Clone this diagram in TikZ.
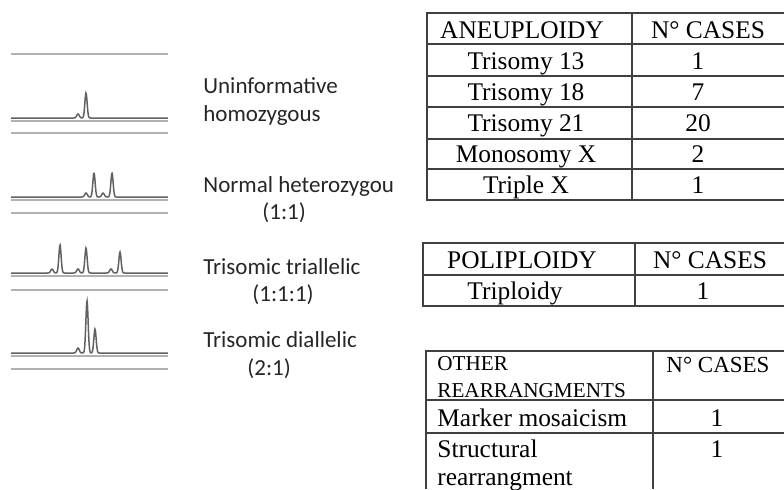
\documentclass[tikz,border=0pt]{standalone}
\usepackage{fontspec}
\setmainfont{Liberation Serif}
\newfontfamily\lblfont{Carlito}
\usetikzlibrary{positioning}

\begin{document}
\begin{tikzpicture}[x=0.5pt, y=-0.5pt,
  cell/.style={font=\fontsize{12.7}{14}\selectfont, inner sep=0pt, anchor=base},
  headcell/.style={font=\fontsize{10.6}{12}\selectfont, inner sep=0pt, anchor=base west},
  lbl/.style={font=\lblfont\fontsize{11.5}{13}\selectfont, text=black!85,
    inner sep=0pt, anchor=base west},
  grid/.style={draw=black!75, line width=0.7pt},
  trace/.style={draw=black!62, line width=0.75pt},
  rule/.style={draw=black!30, line width=0.8pt}]

\useasboundingbox (0,0) rectangle (784,489);

% electropherograms
\foreach \y in {54,133,213,290,369}
  \draw[rule] (11,\y) -- (168,\y);
\foreach \y in {121,200,276,356}
  \draw[rule] (11,\y) -- (168,\y);
\draw[trace] plot[domain=11:168, samples=420]
  (\x, {118 - 25*exp(-((\x-86)/1.6)*((\x-86)/1.6)) - 4*exp(-((\x-78)/1.8)*((\x-78)/1.8))});
\draw[trace] plot[domain=11:168, samples=420]
  (\x, {197 - 24*exp(-((\x-94)/1.6)*((\x-94)/1.6)) - 24*exp(-((\x-112)/1.6)*((\x-112)/1.6))
        - 4*exp(-((\x-86)/1.8)*((\x-86)/1.8)) - 4*exp(-((\x-103)/1.8)*((\x-103)/1.8))});
\draw[trace] plot[domain=11:168, samples=420]
  (\x, {273 - 28*exp(-((\x-60)/1.6)*((\x-60)/1.6)) - 25*exp(-((\x-86)/1.6)*((\x-86)/1.6))
        - 21*exp(-((\x-120)/1.6)*((\x-120)/1.6)) - 4*exp(-((\x-52)/1.8)*((\x-52)/1.8))
        - 4*exp(-((\x-78)/1.8)*((\x-78)/1.8)) - 4*exp(-((\x-111)/1.8)*((\x-111)/1.8))});
\draw[trace] plot[domain=11:168, samples=420]
  (\x, {353 - 52*exp(-((\x-87)/1.6)*((\x-87)/1.6)) - 24*exp(-((\x-95)/1.6)*((\x-95)/1.6))
        - 5*exp(-((\x-78)/1.8)*((\x-78)/1.8))});

% pattern labels
\node[lbl] (unin)  at (203,93)  {Uninformative};
\node[lbl] (homo)  at (203,121) {homozygous};
\node[lbl] (norm)  at (203,192) {Normal heterozygou};
\node[lbl] (normR) at (262,219) {(1:1)};
\node[lbl] (tria)  at (203,274) {Trisomic triallelic};
\node[lbl] (triaR) at (252,301) {(1:1:1)};
\node[lbl] (dial)  at (203,347) {Trisomic diallelic};
\node[lbl] (dialR) at (247,375) {(2:1)};

% aneuploidy table
\draw[grid] (784,13) -- (427,13) -- (427,200) -- (784,200);
\foreach \y in {44,76,107,139,169}
  \draw[grid] (427,\y) -- (784,\y);
\draw[grid] (632,13) -- (632,200);
\node[cell] (aneuHead)  at (522,38) {ANEUPLOIDY};
\node[cell] (aneuCases) at (708,38) {N° CASES};
\foreach \kind/\num [count=\i] in {Trisomy 13/1, Trisomy 18/7, Trisomy 21/20,
    Monosomy X/2, Triple X/1}
{
  \node[cell] (aneu\i)  at (526,{38+31*\i}) {\kind};
  \node[cell] (aneuN\i) at (698,{38+31*\i}) {\num};
}

% poliploidy table
\draw[grid] (784,243) -- (423,243) -- (423,306) -- (784,306);
\draw[grid] (423,275) -- (784,275);
\draw[grid] (635,243) -- (635,306);
\node[cell] (poliHead)  at (522,268) {POLIPLOIDY};
\node[cell] (poliCases) at (710,268) {N° CASES};
\node[cell] (poli1)     at (515,299) {Triploidy};
\node[cell] (poliN1)    at (703,299) {1};

% other rearrangements table
\draw[grid] (784,351) -- (426,351) -- (426,489);
\draw[grid] (426,400) -- (784,400);
\draw[grid] (426,433) -- (784,433);
\draw[grid] (653,351) -- (653,489);
\node[headcell] (otherHead)  at (437,370) {OTHER};
\node[headcell] (otherHead2) at (437,397) {REARRANGMENTS};
\node[headcell, font=\fontsize{11.5}{13}\selectfont] (otherCases) at (666,372) {N° CASES};
\node[cell, anchor=base west] (other1)  at (437,426) {Marker mosaicism};
\node[cell, anchor=base west] (other2)  at (437,457) {Structural};
\node[cell, anchor=base west] (other2b) at (437,485) {rearrangment};
\node[cell] (otherN1) at (717,426) {1};
\node[cell] (otherN2) at (717,457) {1};
\end{tikzpicture}
\end{document}
